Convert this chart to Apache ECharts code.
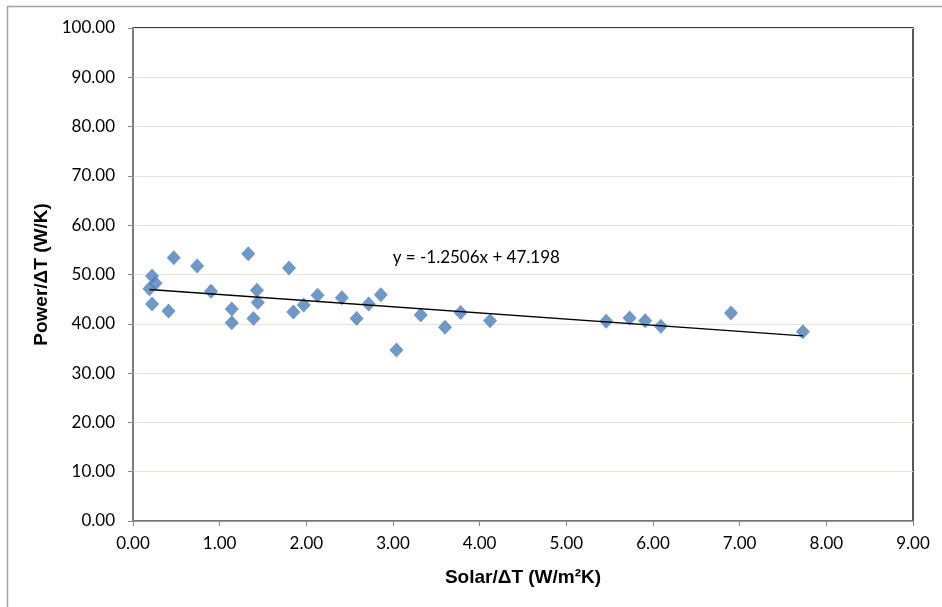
<!DOCTYPE html>
<html><head><meta charset="utf-8">
<script src="https://cdn.jsdelivr.net/npm/echarts@6/dist/echarts.min.js"></script>
<style>html,body{margin:0;padding:0;background:#fff}#c{width:942px;height:607px}</style>
</head><body><div id="c"></div>
<script>
var solarX = [0.19,0.22,0.26,0.22,0.41,0.47,0.74,0.90,1.14,1.14,1.33,1.39,1.43,1.44,1.80,1.85,1.97,2.13,2.41,2.58,2.72,2.86,3.04,3.32,3.60,3.78,4.12,5.46,5.73,5.91,6.09,6.90,7.73];
var powerY = [47.1,49.7,48.2,44.0,42.6,53.4,51.7,46.6,43.0,40.2,54.2,41.1,46.8,44.3,51.3,42.4,43.8,45.8,45.3,41.1,44.0,45.9,34.7,41.8,39.3,42.3,40.6,40.5,41.2,40.6,39.5,42.2,38.4];
var xTicks = [0,1,2,3,4,5,6,7,8,9];
var yTicks = [0,10,20,30,40,50,60,70,80,90,100];
var trendSlope = -1.2506, trendIntercept = 47.198;
var trendLabel = 'y = -1.2506x + 47.198';
var labelAt = [2.99, 53.5];

var pts = solarX.map(function(x,i){return [x, powerY[i]];});
var xmin = Math.min.apply(null, solarX), xmax = Math.max.apply(null, solarX);
var trend = [[xmin, trendIntercept + trendSlope*xmin],[xmax, trendIntercept + trendSlope*xmax]];

var chart = echarts.init(document.getElementById('c'), null, {renderer:'canvas'});
var tickFont = {fontFamily:'Lato, "Liberation Sans", sans-serif', fontSize:17, color:'#000'};
chart.setOption({
  animation:false,
  graphic:[{type:'rect', shape:{x:7.5,y:6.5,width:1000,height:700}, style:{fill:'none', stroke:'#a0a0a0', lineWidth:1.5}, silent:true, z:-1}],
  grid:{left:133, top:28, width:780, height:493, show:true, borderColor:'#000', borderWidth:1.3, backgroundColor:'transparent'},
  xAxis:{type:'value', min:0, max:9, interval:1,
    axisLine:{onZero:false, lineStyle:{color:'#888', width:1.5}},
    axisTick:{show:true, length:5, lineStyle:{color:'#888'}},
    splitLine:{show:false},
    axisLabel:Object.assign({margin:14, formatter:function(v){return v.toFixed(2);}}, tickFont),
    name:'Solar/ΔT (W/m²K)', nameLocation:'middle', nameGap:47,
    nameTextStyle:{fontFamily:'"Liberation Sans", Arial, sans-serif', fontWeight:'bold', fontSize:19, color:'#000'}
  },
  yAxis:{type:'value', min:0, max:100, interval:10,
    axisLine:{show:true, onZero:false, lineStyle:{color:'#888', width:1.5}},
    axisTick:{show:true, length:5, lineStyle:{color:'#888'}},
    splitLine:{show:true, lineStyle:{color:'#e6e6d6', width:1}},
    axisLabel:Object.assign({margin:18, formatter:function(v){return v.toFixed(2);}}, tickFont),
    name:'Power/ΔT (W/K)', nameLocation:'middle', nameGap:74, nameRotate:90,
    nameTextStyle:{fontFamily:'"Liberation Sans", Arial, sans-serif', fontWeight:'bold', fontSize:19, color:'#000'}
  },
  series:[
    {type:'line', data:trend, symbol:'none', lineStyle:{color:'#000', width:1.3}, z:3,
     markPoint:{symbol:'circle', symbolSize:1, itemStyle:{color:'rgba(0,0,0,0)'}, data:[{coord:labelAt, value:0}],
       label:{show:true, position:'right', distance:0, formatter:trendLabel, fontFamily:'Lato, "Liberation Sans", sans-serif', fontSize:17, color:'#000'}}},
    {type:'scatter', data:pts, symbol:'diamond', symbolSize:[14,15], itemStyle:{color:'#4a7ebb'}, z:2}
  ]
});
</script></body></html>
